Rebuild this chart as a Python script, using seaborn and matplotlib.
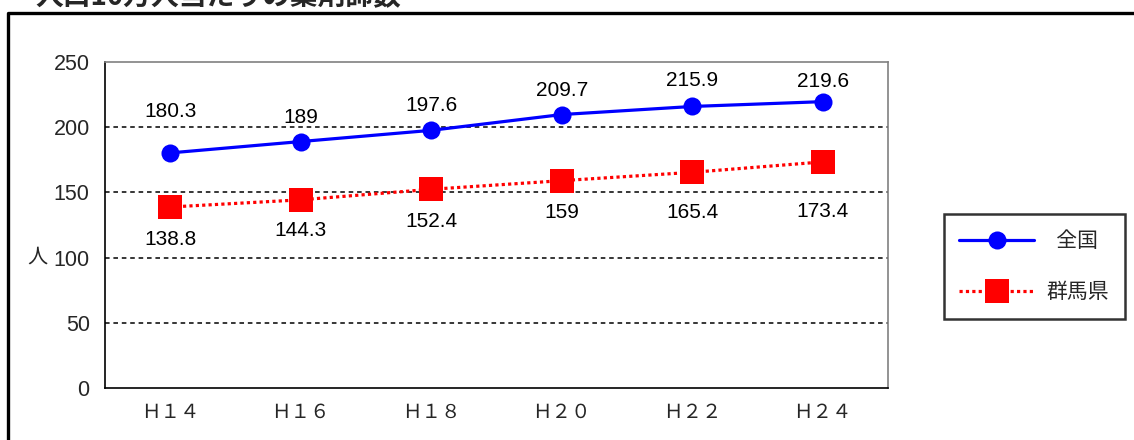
import matplotlib
matplotlib.use("Agg")
import matplotlib.pyplot as plt
import seaborn as sns
import pandas as pd
from matplotlib.lines import Line2D

# --- data ---
years = ["Ｈ１４", "Ｈ１６", "Ｈ１８", "Ｈ２０", "Ｈ２２", "Ｈ２４"]
national = [180.3, 189, 197.6, 209.7, 215.9, 219.6]
gunma = [138.8, 144.3, 152.4, 159, 165.4, 173.4]
series_names = ["全国", "群馬県"]
title_text = "人口10万人当たりの薬剤師数"
y_unit = "人"
y_ticks = [0, 50, 100, 150, 200, 250]

sns.set_theme(style="white")
plt.rcParams["font.family"] = ["Liberation Sans", "Noto Sans CJK JP", "DejaVu Sans"]
JP = ["Noto Sans CJK JP", "DejaVu Sans"]

fig = plt.figure(figsize=(11.34, 4.40), dpi=100)
W, H = 1134, 440
ax = fig.add_axes([105 / W, 1 - 388 / H, (888 - 105) / W, (388 - 62) / H])

df = pd.DataFrame({"year": years * 2,
                   "value": national + gunma,
                   "series": [series_names[0]] * len(years) + [series_names[1]] * len(years)})

sns.lineplot(data=df[df.series == series_names[0]], x="year", y="value", ax=ax,
             color="#0000FF", lw=2.3, marker="o", markersize=13,
             markeredgecolor="#0000FF", markeredgewidth=0, zorder=4)
sns.lineplot(data=df[df.series == series_names[1]], x="year", y="value", ax=ax,
             color="#FF0000", lw=2.3, linestyle=(0, (1, 1)), marker="s", markersize=17,
             markeredgecolor="#FF0000", markeredgewidth=0, zorder=4)

ax.set_xlim(-0.5, len(years) - 0.5)
ax.set_ylim(0, 250)
ax.set_yticks(y_ticks)
ax.set_xticks(range(len(years)))
ax.set_xticklabels(years, family=JP, fontsize=14)
ax.tick_params(axis="y", length=0, pad=11, labelsize=15.5)
ax.tick_params(axis="x", length=0, pad=10)
ax.set_xlabel("")
ax.set_ylabel("")

for yv in y_ticks[1:-1]:
    ax.axhline(yv, color="black", lw=1.1, linestyle=(0, (3, 2.5)), zorder=1)

for side in ["left", "bottom"]:
    ax.spines[side].set_color("black")
    ax.spines[side].set_linewidth(1.2)
for side in ["top", "right"]:
    ax.spines[side].set_color("#808080")
    ax.spines[side].set_linewidth(1.2)

# value labels (pixel offsets from each marker)
up_off = [41, 24, 25, 24, 26, 20]
down_off = [32, 31, 32, 32, 40, 50]
for i, v in enumerate(national):
    ax.annotate(f"{v:g}", (i, v), xytext=(0, up_off[i]), textcoords="offset pixels",
                ha="center", va="center", fontsize=15, color="black")
for i, v in enumerate(gunma):
    ax.annotate(f"{v:g}", (i, v), xytext=(0, -down_off[i]), textcoords="offset pixels",
                ha="center", va="center", fontsize=15, color="black")

fig.text(37 / W, 1 - 257 / H, y_unit, family=JP, fontsize=14.5, ha="center", va="center")

# legend
handles = [
    Line2D([], [], color="#0000FF", lw=2.3, marker="o", markersize=13, markeredgewidth=0),
    Line2D([], [], color="#FF0000", lw=2.3, linestyle=(0, (1, 1)), marker="s",
           markersize=17, markeredgewidth=0),
]
leg_labels = ["  " + series_names[0], series_names[1]]
leg = fig.legend(handles, leg_labels, loc="center",
                 bbox_to_anchor=((944 + 1125) / 2 / W, 1 - (216 + 317) / 2 / H),
                 prop={"family": JP, "size": 15}, frameon=True, fancybox=False,
                 edgecolor="black", handlelength=3.6, handletextpad=0.6,
                 labelspacing=1.4, borderpad=0.75, borderaxespad=0)
leg.get_frame().set_linewidth(1.8)

# outer frame and heading
fig.add_artist(Line2D([8 / W, 8 / W, 1.0], [0.0, 1 - 13 / H, 1 - 13 / H],
                      transform=fig.transFigure, color="black", lw=2.4))
fig.text(35 / W, 1 - 5 / H, title_text, family=JP, fontsize=20, fontweight="bold",
         ha="left", va="baseline")

fig.savefig("out.png", dpi=100)
